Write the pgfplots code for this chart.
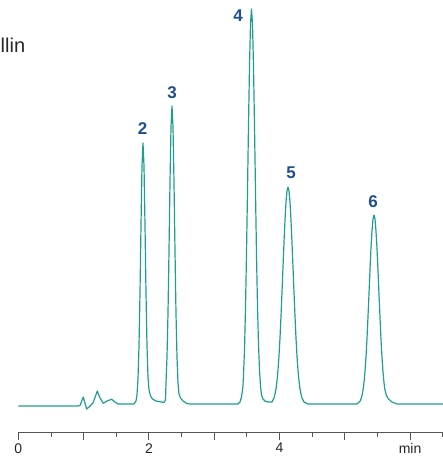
\documentclass[border=0pt]{standalone}
\usepackage{pgfplots}
\pgfplotsset{compat=1.18}
\usepackage{fontspec}
\setmainfont{Liberation Sans}
\definecolor{trace}{HTML}{1E9E8E}
\definecolor{lbl}{HTML}{1F4F8F}
\definecolor{axgray}{HTML}{555555}
\begin{document}
\begin{tikzpicture}[x=1pt,y=1pt]
\useasboundingbox (0,0) rectangle (443,460);
\clip (0,0) rectangle (443,460);
\node[anchor=base west, inner sep=0pt, text=black!85] at (0.5,407) {\fontsize{20}{24}\selectfont llin};
\begin{axis}[
  at={(18.3pt,27.3pt)}, anchor=south west,
  scale only axis, width=424.7pt, height=432.7pt,
  xmin=0, xmax=6.504, ymin=-26.7, ymax=406,
  axis x line=bottom, axis y line=none,
  axis line style={axgray, line width=1pt, -},
  xtick={0,1,2,3,4,5,6},
  xticklabels={0,,2,,4,,min},
  minor xtick={0.5,1.5,2.5,3.5,4.5,5.5,6.5},
  tick align=outside,
  major tick length=7pt, minor tick length=4pt,
  every tick/.style={axgray, line width=0.9pt},
  ticklabel style={font=\fontsize{14}{16}\selectfont, text=black!85},
  /pgf/number format/assume math mode=true,
  clip=false,
]
\addplot[trace, line width=1.2pt, line join=round] coordinates {
(0,0) (0.914,0) (0.945,0.5) (0.995,9) (1.047,-3) (1.083,-1) (1.144,3) (1.210,15)
(1.251,8) (1.302,2.7) (1.358,5) (1.430,6.7) (1.481,4) (1.527,2)
(1.7718,2) (1.8025,5) (1.8178,11) (1.8331,27) (1.8484,60) (1.8637,113) (1.8790,181)
(1.8943,240) (1.9097,263) (1.9250,240) (1.9403,181) (1.9556,113) (1.9709,60)
(1.9862,29) (2.0015,16) (2.0245,10) (2.0551,7) (2.1087,5) (2.1853,4) (2.2313,3.5)
(2.2542,6) (2.2619,23) (2.2772,49) (2.2925,93) (2.3078,155) (2.3231,224) (2.3384,279)
(2.3537,300) (2.3690,279) (2.3843,224) (2.3996,155) (2.4149,93) (2.4302,49)
(2.4456,23) (2.4609,12) (2.4839,8) (2.5222,5) (2.5835,2.5) (2.6294,2)
(3.3645,2) (3.3951,4) (3.4181,9) (3.4410,20) (3.4640,55) (3.4793,98) (3.4946,152)
(3.5099,215) (3.5252,281) (3.5406,340) (3.5559,382) (3.5712,397) (3.5865,382)
(3.6018,340) (3.6171,281) (3.6324,215) (3.6477,152) (3.6630,100) (3.6784,62)
(3.6937,36) (3.7090,20) (3.7242,11) (3.7474,7) (3.7854,4.5) (3.8316,4)
(3.8852,4) (3.9158,8) (3.9311,12) (3.9464,17) (3.9617,25) (3.9770,36) (3.9923,50)
(4.0076,68) (4.0229,90) (4.0383,113.5) (4.0536,139) (4.0689,163.5) (4.0842,186)
(4.0995,204) (4.1148,215) (4.1301,219) (4.1454,215) (4.1607,204) (4.1760,186)
(4.1913,163.5) (4.2067,139) (4.2220,113.5) (4.2373,90) (4.2526,68) (4.2679,50)
(4.2832,36) (4.2985,25) (4.3138,17) (4.3291,12) (4.3444,8) (4.3750,4) (4.4363,2)
(5.1867,2) (5.2327,4.7) (5.2480,7) (5.2633,10.3) (5.2786,15.6) (5.2939,23.5)
(5.3092,34.5) (5.3245,49) (5.3398,67) (5.3551,89) (5.3704,112) (5.3857,136)
(5.4010,158) (5.4163,175) (5.4317,187) (5.4470,191) (5.4623,187) (5.4776,175)
(5.4929,158) (5.5082,136) (5.5235,112) (5.5388,89) (5.5541,67) (5.5694,49)
(5.5847,34.5) (5.6000,23.5) (5.6153,16) (5.6383,10.5) (5.6689,7) (5.7228,4)
(5.7994,2) (6.504,2)
};
\begin{scope}[every node/.style={text=lbl, font=\fontsize{17}{20}\selectfont\bfseries, inner sep=0pt}]
\node at (axis cs:1.905,277) {2};
\node at (axis cs:2.354,313) {3};
\node at (axis cs:3.365,390) {4};
\node at (axis cs:4.176,233) {5};
\node at (axis cs:5.432,204) {6};
\end{scope}
\end{axis}
\end{tikzpicture}
\end{document}
